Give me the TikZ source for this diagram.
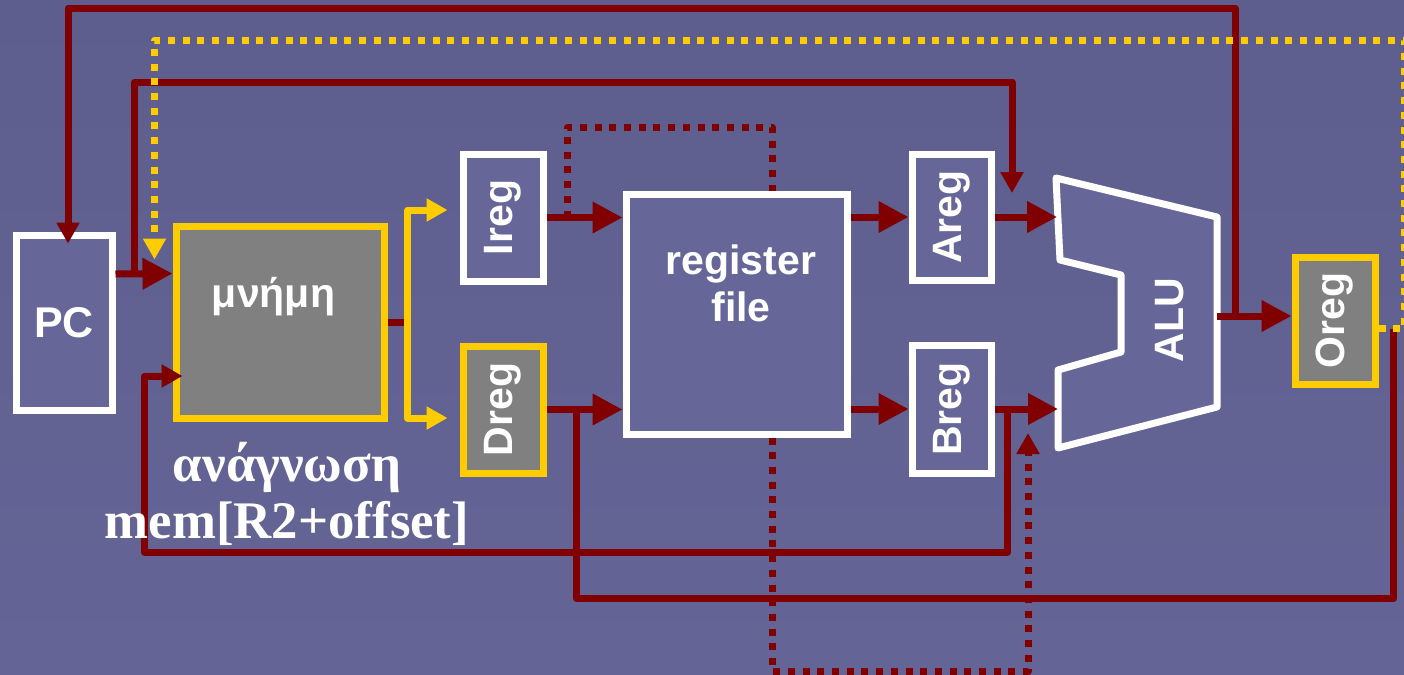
\documentclass[tikz,border=0pt]{standalone}
\usepackage{fontspec}
\setmainfont{Liberation Serif}
\setsansfont{Liberation Sans}
\usetikzlibrary{arrows.meta}

\definecolor{bgtop}{RGB}{94,94,142}
\definecolor{bgbot}{RGB}{100,100,150}
\definecolor{boxfill}{RGB}{102,102,153}
\definecolor{memgray}{RGB}{128,128,128}
\definecolor{wirered}{RGB}{128,0,0}
\definecolor{gold}{RGB}{255,204,0}

\newcommand\boxfont{\sffamily\bfseries\fontsize{20.5}{23.5}\selectfont}
\newcommand\vtext[1]{\rotatebox{90}{#1}}

\begin{document}
\begin{tikzpicture}[x=0.5pt,y=-0.5pt,
	box/.style={draw=white, line width=3.5pt, fill=boxfill, inner sep=0pt, font=\boxfont, text=white},
	goldbox/.style={box, draw=gold, fill=memgray},
	txt/.style={font=\boxfont, text=white, inner sep=0pt},
	wire/.style={draw=wirered, line width=3.5pt, line join=round},
	goldwire/.style={draw=gold, line width=3.5pt, line join=round},
	dotwire/.style={dash pattern=on 3.5pt off 3.85pt},
	bigtip/.style={-{Triangle[length=15pt,width=15pt]}},
	smalltip/.style={-{Triangle[length=10.5pt,width=11pt]}}]
	% background
	\shade[top color=bgtop, bottom color=bgbot] (0,0) rectangle (1404,675);
	\useasboundingbox (0,0) rectangle (1404,675);

	% blocks
	\node[box, minimum width=48pt, minimum height=87.5pt] (pc) at (64,322.5) {\fontsize{21.5}{24}\selectfont PC};
	\node[goldbox, minimum width=104pt, minimum height=96pt,
		label={[txt, xshift=-3.25pt, yshift=12.5pt]center:μνήμη}] (mem) at (280,322) {};
	\node[box, minimum width=40pt, minimum height=63.5pt] (ireg) at (503,217.5) {\vtext{Ireg}};
	\node[goldbox, minimum width=40pt, minimum height=63.5pt] (dreg) at (503,409.5) {\vtext{Dreg}};
	\node[box, minimum width=110.5pt, minimum height=120pt] (rf) at (736.5,314) {};
	\node[txt, align=center] (rflbl) at (741,283.5) {register\\file};
	\node[box, minimum width=39.5pt, minimum height=63pt] (areg) at (951.5,217) {\vtext{Areg}};
	\node[box, minimum width=39.5pt, minimum height=64pt] (breg) at (951.5,409) {\vtext{Breg}};
	\node[goldbox, minimum width=40pt, minimum height=63.5pt] (oreg) at (1335,320.5) {\vtext{Oreg}};

	% ALU
	\draw[draw=white, fill=boxfill, line width=3.5pt, line join=round]
		(1056,178) -- (1217,217) -- (1217,407) -- (1058,448) -- (1058,370)
		-- (1121,352) -- (1121,275) -- (1060,260) -- cycle;
	\node[txt] (alu) at (1170,320) {\vtext{ALU}};
	\coordinate (aluA) at (1057,217);
	\coordinate (aluB) at (1058,409);
	\coordinate (aluO) at (1217,316);
	\coordinate (aluAtop) at (1012,193);
	\coordinate (aluImm) at (1028,433);

	% forks
	\coordinate (pcfork) at ([xshift=9.5pt,yshift=24.25pt]pc.east);
	\coordinate (memfork) at ([xshift=10pt]mem.east);
	\coordinate (ifork) at ([xshift=10.5pt]ireg.east);
	\coordinate (dfork) at ([xshift=15pt]dreg.east);
	\coordinate (bfork) at ([xshift=6.5pt]breg.east);
	\coordinate (alufork) at (1235,316);

	% datapath
	\draw[wire, bigtip] ([yshift=24.25pt]pc.east) -- ([yshift=24.25pt]mem.west);
	\draw[wire, smalltip] (pcfork) -- ++(0,-192) -| (aluAtop);
	\draw[wire] (mem.east) -- (memfork);
	\draw[goldwire, smalltip] (memfork) |- ([xshift=-6pt,yshift=3.75pt]ireg.west);
	\draw[goldwire, smalltip] (memfork) |- ([xshift=-6pt,yshift=-4.25pt]dreg.west);
	\draw[wire, bigtip] (ireg.east) -- (ireg.east -| rf.west);
	\draw[wire, bigtip] (dreg.east) -- (dreg.east -| rf.west);
	\draw[wire, bigtip] (rf.east |- areg.west) -- (areg.west);
	\draw[wire, bigtip] (rf.east |- breg.west) -- (breg.west);
	\draw[wire, bigtip] (areg.east) -- (aluA);
	\draw[wire, bigtip] (breg.east) -- (aluB);
	\draw[wire, bigtip] (aluO) -- (aluO -| oreg.west);
	\draw[wire, smalltip] (alufork) -- ++(0,-308) -| ([xshift=2pt,yshift=-6pt]pc.north);
	\draw[wire, smalltip] (bfork) -- ++(0,143) -- ++(-863,0) |- ([xshift=5pt,yshift=-27pt]mem.west);
	\draw[wire] ([xshift=7.5pt,yshift=-4pt]oreg.east) -- ++(0,270) -| (dfork);

	% dotted lines
	\draw[goldwire, dotwire, smalltip] ([yshift=-3.75pt]oreg.east) -- ++(26,0) -- ++(0,-288)
		-| ([xshift=-9pt,yshift=-18.5pt]mem.north west);
	\draw[wire, dotwire] (ifork) -- ++(0,-90.5) -| ([xshift=17.75pt]rf.north);
	\draw[wire, dotwire, smalltip] ([xshift=17.75pt]rf.south) -- ++(0,234) -| (aluImm);

	\node[txt, font=\bfseries\fontsize{26.4}{28.5}\selectfont, align=center] (readlbl) at (287,494)
		{ανάγνωση\\mem[R2+offset]};
\end{tikzpicture}
\end{document}
